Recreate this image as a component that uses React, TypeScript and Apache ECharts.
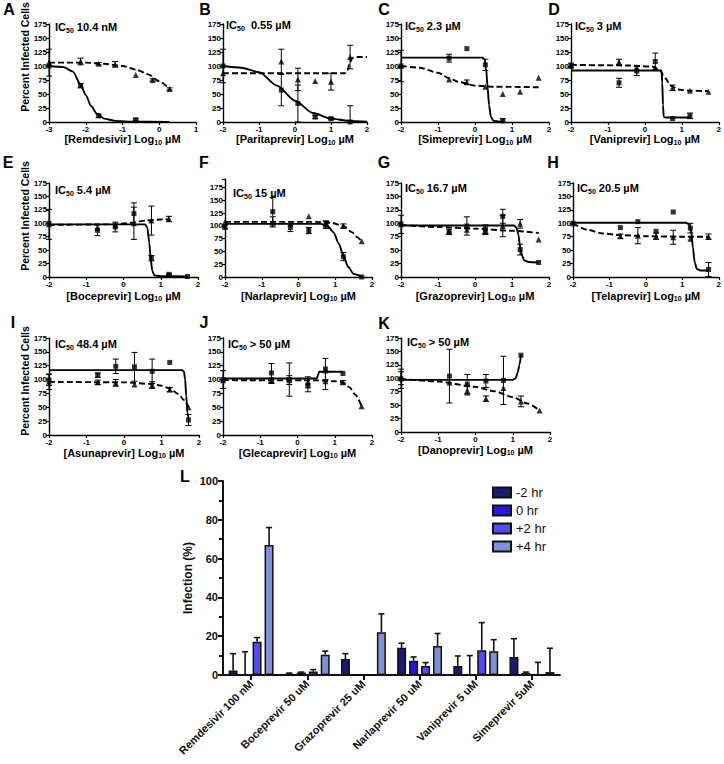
import React, { useEffect, useRef } from 'react';
import * as echarts from 'echarts';

type P = [number, number, number]; // log dose, mean, sd
type C = [number, number];

const FONT = '"Liberation Sans", Arial, Helvetica, sans-serif';

// ---------- Panel A: Remdesivir ----------
const remSq: P[] = [[-3, 100, 0], [-2.14, 65, 4], [-1.65, 11, 3], [-0.64, 4, 2]];
const remTri: P[] = [[-3, 106, 24], [-2.14, 108, 6], [-1.65, 104, 2], [-1.2, 103, 5], [-0.64, 84, 0], [-0.18, 75, 2], [0.28, 59, 2]];
const remFit: C[] = [[-3, 100], [-2.6, 98], [-2.35, 90], [-2.14, 67], [-2.0, 48], [-1.85, 28], [-1.7, 15], [-1.5, 6], [-1.2, 2], [-0.8, 0.5], [0.28, 0]];
const remTox: C[] = [[-3, 106], [-2, 106], [-1.5, 104], [-1, 100], [-0.6, 93], [-0.3, 85], [0, 73], [0.28, 59]];

// ---------- Panel B: Paritaprevir ----------
const parSq: P[] = [[-2, 100, 30], [-0.38, 57, 28], [0.08, 33, 33], [0.56, 9, 3], [1.0, 6, 2], [1.53, 0, 29]];
const parTri: P[] = [[-2, 87, 0], [-0.38, 108, 22], [0.08, 76, 20], [0.56, 73, 0], [1.0, 72, 15], [1.53, 116, 21]];
const parFit: C[] = [[-2, 100], [-1.5, 97], [-1, 89], [-0.5, 65], [0, 38], [0.5, 16], [1, 6], [1.5, 2], [2, 0.5]];
const parTox: C[] = [[-2, 87], [1.38, 87], [1.45, 90], [1.52, 105], [1.58, 114], [1.7, 116], [2, 116]];

// ---------- Panel C: Simeprevir ----------
const simSq: P[] = [[-2, 100, 0], [-0.7, 114, 7], [-0.22, 131, 0], [0.28, 102, 10], [0.75, 2, 4]];
const simTri: P[] = [[-2, 100, 28], [-0.7, 76, 0], [-0.22, 71, 4], [0.28, 63, 0], [0.75, 50, 0], [1.22, 54, 0], [1.72, 79, 0]];
const simFit: C[] = [[-2, 115], [0.2, 115], [0.26, 112], [0.3, 96], [0.34, 62], [0.38, 30], [0.43, 9], [0.5, 2], [0.75, 0]];
const simTox: C[] = [[-2, 100], [-1.5, 97], [-1, 88], [-0.7, 78], [-0.4, 71], [0, 65], [0.5, 63], [1.72, 62]];

// ---------- Panel D: Vaniprevir ----------
const vanSq: P[] = [[-2, 100, 0], [-0.7, 70, 8], [-0.22, 91, 8], [0.28, 108, 15], [0.75, 6, 0], [1.22, 11, 5]];
const vanTri: P[] = [[-2, 101, 4], [-0.7, 107, 5], [-0.22, 97, 0], [0.28, 97, 0], [0.75, 61, 5], [1.22, 56, 0], [1.72, 54, 0]];
const vanFit: C[] = [[-2, 92], [0.45, 92], [0.47, 70], [0.49, 30], [0.51, 9], [0.55, 8], [1.22, 8]];
const vanTox: C[] = [[-2, 102], [-0.5, 101], [0.2, 99], [0.4, 93], [0.55, 78], [0.7, 65], [0.9, 58], [1.2, 56], [1.72, 55]];

// ---------- Panel E: Boceprevir ----------
const bocSq: P[] = [[-2, 100, 0], [-0.7, 87, 10], [-0.22, 93, 9], [0.28, 118, 20], [0.75, 35, 5], [1.22, 5, 1], [1.72, 1, 0]];
const bocTri: P[] = [[-2, 98, 28], [-0.7, 92, 0], [-0.22, 97, 0], [0.28, 100, 30], [0.75, 105, 27], [1.22, 108, 5]];
const bocFit: C[] = [[-2, 98], [0.58, 98], [0.64, 92], [0.69, 65], [0.73, 35], [0.77, 12], [0.83, 3], [1, 1.5], [1.72, 1]];
const bocTox: C[] = [[-2, 97], [-0.2, 98], [0.2, 101], [0.6, 105], [1, 107], [1.22, 107.5]];

// ---------- Panel F: Narlaprevir ----------
const narSq: P[] = [[-2, 98, 4], [-0.7, 128, 28], [-0.22, 97, 8], [0.28, 91, 6], [0.75, 102, 7], [1.22, 40, 8], [1.72, 0, 0]];
const narTri: P[] = [[-2, 108, 0], [-0.7, 108, 10], [-0.22, 105, 0], [0.28, 119, 0], [0.75, 104, 6], [1.22, 100, 4], [1.72, 70, 0]];
const narFit: C[] = [[-2, 104], [0.6, 104], [0.8, 99], [0.95, 88], [1.1, 65], [1.22, 42], [1.35, 20], [1.5, 6], [1.72, 1]];
const narTox: C[] = [[-2, 108], [0.5, 108], [0.9, 106], [1.22, 100], [1.45, 88], [1.6, 78], [1.72, 70]];

// ---------- Panel G: Grazoprevir ----------
const graSq: P[] = [[-2, 99, 0], [-0.7, 84, 5], [-0.22, 95, 17], [0.28, 89, 8], [0.75, 113, 13], [1.22, 51, 10], [1.72, 27, 0]];
const graTri: P[] = [[-2, 98, 17], [-0.7, 85, 0], [-0.22, 88, 0], [0.28, 87, 8], [0.75, 95, 20], [1.22, 99, 8], [1.72, 70, 0]];
const graFit: C[] = [[-2, 96], [1.05, 96], [1.12, 92], [1.17, 80], [1.22, 55], [1.27, 40], [1.33, 31], [1.45, 28], [1.72, 27]];
const graTox: C[] = [[-2, 97], [-1, 93], [0, 90], [1, 86], [1.72, 82]];

// ---------- Panel H: Telaprevir ----------
const telSq: P[] = [[-2, 100, 0], [-0.7, 92, 0], [-0.22, 103, 0], [0.28, 85, 0], [0.75, 121, 0], [1.22, 91, 9], [1.72, 14, 13]];
const telTri: P[] = [[-2, 100, 0], [-0.7, 76, 4], [-0.22, 77, 15], [0.28, 76, 6], [0.75, 74, 13], [1.22, 71, 0], [1.72, 75, 5]];
const telFit: C[] = [[-2, 101], [1.1, 101], [1.18, 98], [1.24, 88], [1.29, 55], [1.34, 27], [1.4, 15], [1.5, 12], [1.72, 12]];
const telTox: C[] = [[-2, 100], [-1.6, 88], [-1.2, 81], [-0.7, 78], [0, 76], [1, 75], [1.72, 75]];

// ---------- Panel I: Asunaprevir ----------
const asuSq: P[] = [[-2, 99, 10], [-0.7, 108, 4], [-0.22, 124, 13], [0.28, 123, 26], [0.75, 115, 22], [1.22, 131, 0], [1.72, 27, 10]];
const asuTri: P[] = [[-2, 96, 14], [-0.7, 95, 4], [-0.22, 94, 6], [0.28, 91, 0], [0.75, 90, 6], [1.22, 82, 4], [1.72, 50, 0]];
const asuFit: C[] = [[-2, 117], [1.55, 117], [1.6, 114], [1.63, 100], [1.66, 70], [1.69, 40], [1.72, 30]];
const asuTox: C[] = [[-2, 96], [0, 95], [0.75, 92], [1.0, 89], [1.22, 84], [1.45, 74], [1.6, 63], [1.72, 50]];

// ---------- Panel J: Glecaprevir ----------
const gleSq: P[] = [[-2, 100, 16], [-0.7, 112, 17], [-0.22, 100, 30], [0.28, 90, 12], [0.75, 119, 19], [1.22, 111, 0]];
const gleTri: P[] = [[-2, 99, 0], [-0.7, 98, 5], [-0.22, 99, 8], [0.28, 95, 10], [0.75, 97, 15], [1.22, 95, 3], [1.72, 52, 0]];
const gleFit: C[] = [[-2, 102], [0.52, 102], [0.55, 108], [0.58, 114], [1.22, 114]];
const gleTox: C[] = [[-2, 99], [0.5, 98.5], [1.0, 97], [1.22, 95], [1.4, 86], [1.55, 73], [1.72, 52]];

// ---------- Panel K: Danoprevir ----------
const danSq: P[] = [[-2, 99, 18], [-0.7, 104, 50], [-0.22, 89, 18], [0.28, 95, 12], [0.75, 96, 45], [1.22, 143, 0]];
const danTri: P[] = [[-2, 100, 12], [-0.7, 92, 0], [-0.22, 77, 8], [0.28, 62, 5], [0.75, 82, 0], [1.22, 57, 10], [1.72, 40, 0]];
const danFit: C[] = [[-2, 97], [1.0, 97], [1.08, 100], [1.13, 110], [1.18, 125], [1.22, 143]];
const danTox: C[] = [[-2, 99], [-1, 94], [0, 84], [0.5, 76], [1, 65], [1.4, 53], [1.72, 40]];

// ---------- Panel L: time of addition ----------
const barCats = ['Remdesivir 100 nM', 'Boceprevir 50 uM', 'Grazoprevir 25 uM', 'Narlaprevir 50 uM', 'Vaniprevir 5 uM', 'Simeprevir 5uM'];
const legendNames = ['-2 hr', '0 hr', '+2 hr', '+4 hr'];
const m2h = [2.3, 0.7, 8.2, 14, 4.7, 9.3];
const m2hSd = [8.7, 0.3, 2.8, 2.4, 5.1, 9.4];
const h0 = [0, 1.3, 0, 7.4, 0, 1];
const h0Sd = [12, 0.2, 0, 1.9, 10, 0.5];
const p2h = [17.2, 1.8, 0, 4.7, 12.7, 0];
const p2hSd = [2.1, 1, 0, 1.7, 14.3, 6.5];
const p4h = [67, 10.5, 22, 15, 12.3, 1.5];
const p4hSd = [9, 1.8, 9.5, 6.4, 5.9, 12.3];
const barColors = ['#1c1a6b', '#2a16e6', '#544bee', '#8090d4'];

const panels = [
  { letter: 'A', drug: 'Remdesivir', ic: '10.4 nM', xMin: -3, xMax: 1, yMax: 175, box: [49, 24, 147, 98], gap: 9, letterAt: [9, 9], icAt: [55, 27], sq: remSq, tri: remTri, fit: remFit, tox: remTox },
  { letter: 'B', drug: 'Paritaprevir', ic: ' 0.55 µM', xMin: -2, xMax: 2, yMax: 175, box: [223, 24, 144, 98], gap: 9, letterAt: [205, 9], icAt: [226, 25], sq: parSq, tri: parTri, fit: parFit, tox: parTox },
  { letter: 'C', drug: 'Simeprevir', ic: '2.3 µM', xMin: -2, xMax: 2, yMax: 175, box: [401, 24, 148, 98], gap: 9, letterAt: [384, 9], icAt: [405, 26], sq: simSq, tri: simTri, fit: simFit, tox: simTox },
  { letter: 'D', drug: 'Vaniprevir', ic: '3 µM', xMin: -2, xMax: 2, yMax: 175, box: [571, 24, 149, 98], gap: 9, letterAt: [554, 9], icAt: [575, 26], sq: vanSq, tri: vanTri, fit: vanFit, tox: vanTox },
  { letter: 'E', drug: 'Boceprevir', ic: '5.4 µM', xMin: -2, xMax: 2, yMax: 175, box: [49, 183, 149, 94], gap: 12, letterAt: [8, 162], icAt: [55, 190], sq: bocSq, tri: bocTri, fit: bocFit, tox: bocTox },
  { letter: 'F', drug: 'Narlaprevir', ic: '15 µM', xMin: -2, xMax: 2, yMax: 192, box: [225, 179, 147, 98], gap: 12, letterAt: [204, 162], icAt: [233, 193], sq: narSq, tri: narTri, fit: narFit, tox: narTox },
  { letter: 'G', drug: 'Grazoprevir', ic: '16.7 µM', xMin: -2, xMax: 2, yMax: 175, box: [401, 183, 148, 94], gap: 12, letterAt: [384, 162], icAt: [405, 188], sq: graSq, tri: graTri, fit: graFit, tox: graTox },
  { letter: 'H', drug: 'Telaprevir', ic: '20.5 µM', xMin: -2, xMax: 2, yMax: 175, box: [573, 183, 147, 94], gap: 12, letterAt: [553, 162], icAt: [577, 188], sq: telSq, tri: telTri, fit: telFit, tox: telTox },
  { letter: 'I', drug: 'Asunaprevir', ic: '48.4 µM', xMin: -2, xMax: 2, yMax: 175, box: [49, 338, 150, 97], gap: 11, letterAt: [13, 322], icAt: [55, 344], sq: asuSq, tri: asuTri, fit: asuFit, tox: asuTox },
  { letter: 'J', drug: 'Glecaprevir', ic: '> 50 µM', xMin: -2, xMax: 2, yMax: 175, box: [223, 338, 149, 97], gap: 11, letterAt: [204, 322], icAt: [228, 344], sq: gleSq, tri: gleTri, fit: gleFit, tox: gleTox },
  { letter: 'K', drug: 'Danoprevir', ic: '> 50 µM', xMin: -2, xMax: 2, yMax: 175, box: [401, 338, 149, 94], gap: 11, letterAt: [384, 323], icAt: [407, 342], sq: danSq, tri: danTri, fit: danFit, tox: danTox },
];

const yTitles = [[25, 57], [25, 216], [25, 381]];

const errRender = (_params: any, api: any) => {
  const x = api.value(0);
  const y = api.value(1);
  const e = api.value(2);
  if (!e) return { type: 'group', children: [] };
  const top = api.coord([x, y + e]);
  const bot = api.coord([x, Math.max(0, y - e)]);
  const cw = 3;
  const st = { stroke: '#000', lineWidth: 1 };
  return {
    type: 'group',
    children: [
      { type: 'line', shape: { x1: top[0], y1: top[1], x2: bot[0], y2: bot[1] }, style: st },
      { type: 'line', shape: { x1: top[0] - cw, y1: top[1], x2: top[0] + cw, y2: top[1] }, style: st },
      { type: 'line', shape: { x1: bot[0] - cw, y1: bot[1], x2: bot[0] + cw, y2: bot[1] }, style: st },
    ],
  };
};

const barErrRender = (offset: number) => (_params: any, api: any) => {
  const i = api.value(0);
  const v = api.value(1);
  const e = api.value(2);
  if (!e) return { type: 'group', children: [] };
  const b = api.coord([i, v]);
  const t = api.coord([i, v + e]);
  const x = b[0] + offset;
  const st = { stroke: '#111', lineWidth: 1.6 };
  return {
    type: 'group',
    children: [
      { type: 'line', shape: { x1: x, y1: b[1], x2: x, y2: t[1] }, style: st },
      { type: 'line', shape: { x1: x - 3, y1: t[1], x2: x + 3, y2: t[1] }, style: st },
    ],
  };
};

function buildOption() {
  const grid: any[] = [];
  const xAxis: any[] = [];
  const yAxis: any[] = [];
  const series: any[] = [];
  const graphic: any[] = [];
  const tickFont = { fontSize: 8, fontWeight: 'bold', color: '#000', fontFamily: FONT };
  const richName = {
    a: { fontSize: 11, fontWeight: 'bold', color: '#000', fontFamily: FONT, lineHeight: 13 },
    s: { fontSize: 7, fontWeight: 'bold', color: '#000', fontFamily: FONT, lineHeight: 8, verticalAlign: 'bottom' },
  };

  panels.forEach((p, i) => {
    grid.push({ left: p.box[0], top: p.box[1], width: p.box[2], height: p.box[3] });
    xAxis.push({
      gridIndex: i, type: 'value', min: p.xMin, max: p.xMax, interval: 1,
      axisLine: { show: true, onZero: false, lineStyle: { color: '#000', width: 1.4 } },
      axisTick: { show: true, length: 3, lineStyle: { color: '#000', width: 1.2 } },
      axisLabel: { ...tickFont, margin: 3 },
      splitLine: { show: false },
      name: `{a|[${p.drug}] Log}{s|10}{a| µM}`,
      nameLocation: 'middle', nameGap: p.gap,
      nameTextStyle: { rich: richName },
    });
    yAxis.push({
      gridIndex: i, type: 'value', min: 0, max: p.yMax, interval: 25,
      axisLine: { show: true, onZero: false, lineStyle: { color: '#000', width: 1.4 } },
      axisTick: { show: true, length: 3, lineStyle: { color: '#000', width: 1.2 } },
      axisLabel: { ...tickFont, margin: 2, formatter: (v: number) => (v % 25 === 0 ? String(v) : '') },
      splitLine: { show: false },
    });
    const ax = { xAxisIndex: i, yAxisIndex: i, silent: true };
    series.push({ ...ax, type: 'line', data: p.fit, symbol: 'none', smooth: 0.25, smoothMonotone: 'x', lineStyle: { color: '#000', width: 1.9 }, z: 2 });
    series.push({ ...ax, type: 'line', data: p.tox, symbol: 'none', smooth: 0.25, smoothMonotone: 'x', lineStyle: { color: '#000', width: 1.9, type: [6, 3] }, z: 2 });
    series.push({ ...ax, type: 'custom', data: p.sq, renderItem: errRender, encode: { x: 0, y: 1 }, z: 3 });
    series.push({ ...ax, type: 'custom', data: p.tri, renderItem: errRender, encode: { x: 0, y: 1 }, z: 3 });
    series.push({ ...ax, type: 'scatter', data: p.sq.map((d) => [d[0], d[1]]), symbol: 'rect', symbolSize: 5, itemStyle: { color: '#000' }, z: 4 });
    series.push({ ...ax, type: 'scatter', data: p.tri.map((d) => [d[0], d[1]]), symbol: 'triangle', symbolSize: 6, itemStyle: { color: '#000' }, z: 4 });

    graphic.push({
      type: 'text', x: p.letterAt[0], y: p.letterAt[1],
      style: { text: p.letter, font: `bold 16px ${FONT}`, fill: '#000', align: 'center', verticalAlign: 'middle' },
    });
    graphic.push({
      type: 'text', x: p.icAt[0], y: p.icAt[1],
      style: {
        text: `{b|IC}{s|50}{b| ${p.ic}}`,
        verticalAlign: 'middle', align: 'left', fill: '#000',
        rich: {
          b: { fontSize: 11, fontWeight: 'bold', fontFamily: FONT, fill: '#000', color: '#000', lineHeight: 13 },
          s: { fontSize: 7, fontWeight: 'bold', fontFamily: FONT, fill: '#000', color: '#000', lineHeight: 8, verticalAlign: 'bottom' },
        },
      },
    });
  });

  yTitles.forEach((pos) => {
    graphic.push({
      type: 'text', x: pos[0], y: pos[1], rotation: Math.PI / 2,
      style: { text: 'Percent Infected Cells', font: `bold 10.5px ${FONT}`, fill: '#000', align: 'center', verticalAlign: 'middle' },
    });
  });

  // Panel L
  const gi = panels.length;
  grid.push({ left: 223, top: 481, width: 337, height: 194 });
  xAxis.push({
    gridIndex: gi, type: 'category', data: barCats,
    axisLine: { show: true, lineStyle: { color: '#111', width: 2 } },
    axisTick: { show: true, alignWithLabel: true, length: 5, interval: 0, lineStyle: { color: '#111', width: 2 } },
    axisLabel: { rotate: 45, interval: 0, fontSize: 11, fontWeight: 'bold', color: '#111', fontFamily: FONT, margin: 7 },
  });
  yAxis.push({
    gridIndex: gi, type: 'value', min: 0, max: 100, interval: 20,
    name: 'Infection (%)', nameLocation: 'middle', nameGap: 29,
    nameTextStyle: { fontSize: 12, fontWeight: 'bold', color: '#111', fontFamily: FONT },
    axisLine: { show: true, lineStyle: { color: '#111', width: 2 } },
    axisTick: { show: true, length: 5, lineStyle: { color: '#111', width: 2 } },
    minorTick: { show: true, splitNumber: 2, length: 4, lineStyle: { color: '#111', width: 2 } },
    axisLabel: { fontSize: 11, fontWeight: 'bold', color: '#111', fontFamily: FONT, margin: 5 },
    splitLine: { show: false },
    minorSplitLine: { show: false },
  });
  const groups = [
    { vals: m2h, sd: m2hSd },
    { vals: h0, sd: h0Sd },
    { vals: p2h, sd: p2hSd },
    { vals: p4h, sd: p4hSd },
  ];
  groups.forEach((g, k) => {
    series.push({
      type: 'bar', name: legendNames[k], xAxisIndex: gi, yAxisIndex: gi, data: g.vals,
      barWidth: 9, barGap: '33%',
      itemStyle: { color: barColors[k], borderColor: '#111', borderWidth: 1.5 },
      z: 2, silent: true,
    });
  });
  groups.forEach((g, k) => {
    series.push({
      type: 'custom', xAxisIndex: gi, yAxisIndex: gi,
      data: g.vals.map((v, j) => [j, v, g.sd[j]]),
      renderItem: barErrRender((k - 1.5) * 12),
      encode: { x: 0, y: 1 }, z: 3, silent: true,
    });
  });
  graphic.push({
    type: 'text', x: 185, y: 476,
    style: { text: 'L', font: `bold 16px ${FONT}`, fill: '#000', align: 'center', verticalAlign: 'middle' },
  });

  return {
    animation: false,
    backgroundColor: '#fff',
    grid, xAxis, yAxis, series, graphic,
    legend: {
      data: legendNames, orient: 'vertical', left: 487, top: 481,
      itemWidth: 18, itemHeight: 10, itemGap: 5, icon: 'rect', selectedMode: false,
      textStyle: { fontSize: 13, color: '#111', fontFamily: FONT },
    },
  };
}

export default function App() {
  const ref = useRef<HTMLDivElement>(null);
  useEffect(() => {
    document.body.style.margin = '0';
    const chart = echarts.init(ref.current!, null, { renderer: 'svg' });
    chart.setOption(buildOption() as any);
    return () => chart.dispose();
  }, []);
  return <div ref={ref} style={{ width: 724, height: 764, position: 'absolute', left: 0, top: 0, background: '#fff' }} />;
}
